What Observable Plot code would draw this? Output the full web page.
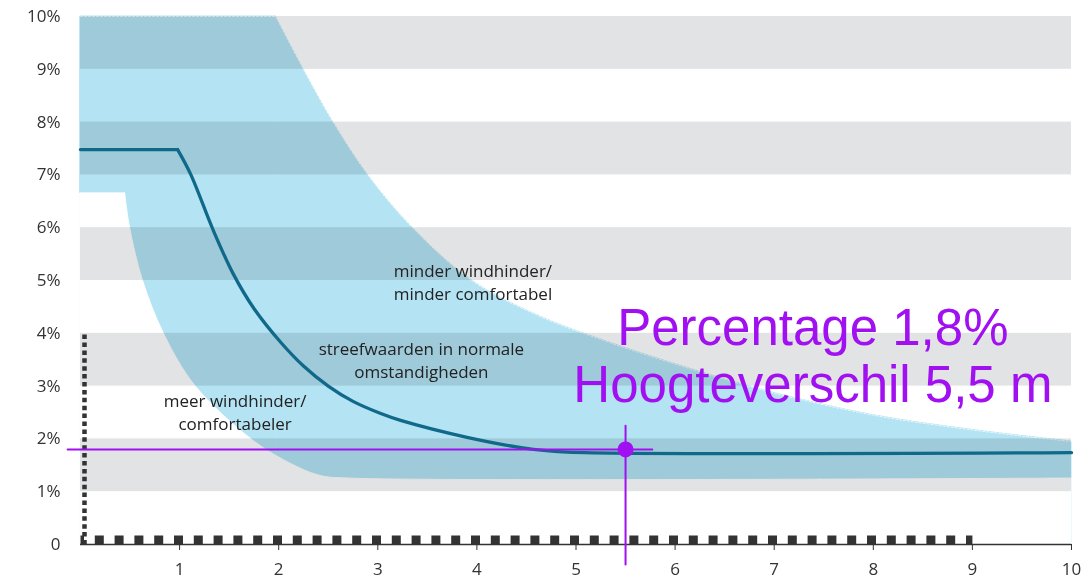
<!DOCTYPE html>
<html><head><meta charset="utf-8">
<script src="https://cdn.jsdelivr.net/npm/d3@7"></script>
<script src="https://cdn.jsdelivr.net/npm/@observablehq/plot@0.6"></script>
<style>html,body{margin:0;padding:0;background:#fff;overflow:hidden}</style>
</head><body><div id="chart"></div>
<script>
// ---- data ----
const xTicks = [1, 2, 3, 4, 5, 6, 7, 8, 9, 10];
const yTicks = [0, 1, 2, 3, 4, 5, 6, 7, 8, 9, 10];
const grayBands = [[1, 2], [3, 4], [5, 6], [7, 8], [9, 10]];
// upper edge of the blue zone (less wind nuisance side)
const upperFlat = [[0, 10], [1.97, 10]];
const upperCurve = [[1.97, 10], [2.25, 9], [2.55, 8], [2.9, 7], [3.35, 6], [3.95, 5], [4.6, 4.35], [5.3, 3.85], [6.2, 3.3], [7, 2.87], [8, 2.45], [9, 2.17], [10, 1.95]];
// lower edge of the blue zone
const lowerFlat = [[0, 6.65], [0.45, 6.65]];
const lowerCurve = [[0.45, 6.65], [0.5, 6.0], [0.63, 5], [0.84, 4], [1.16, 3], [1.72, 2], [2.1, 1.55], [2.42, 1.3], [2.7, 1.25], [10, 1.25]];
// target values line
const targetFlat = [[0, 7.48], [0.98, 7.48]];
const targetCurve = [[0.98, 7.48], [1.11, 7.02], [1.34, 5.95], [1.54, 5.13], [1.75, 4.47], [2.02, 3.83], [2.25, 3.38], [2.5, 3.0], [2.75, 2.71], [3.03, 2.48], [3.23, 2.35], [3.9, 2.03], [4.57, 1.8], [4.91, 1.75], [10, 1.74]];
// dashed reference markers
const baseDash = [[0, 0], [9, 0]];
const sideDash = [[0, 0], [0, 4]];
// labels (one entry per text line)
const labelTexts = ["minder windhinder/", "minder comfortabel", "streefwaarden in normale", "omstandigheden", "meer windhinder/", "comfortabeler"];
const labelX = [3.96, 3.96, 3.44, 3.44, 1.56, 1.56];
const labelY = [5.17, 4.73, 3.69, 3.25, 2.71, 2.27];
// highlighted reading
const markerX = 5.5;
const markerY = 1.8;
const markerHLine = [[-0.13, 1.8], [5.77, 1.8]];
const markerVLine = [[5.5, 2.25], [5.5, -0.38]];
const annotationLines = ["Percentage 1,8%", "Hoogteverschil 5,5 m"];
const annotationX = [7.39, 7.39];
const annotationY = [3.77, 2.69];

const labels = labelTexts.map((t, i) => ({text: t, x: labelX[i], y: labelY[i]}));
const annotations = annotationLines.map((t, i) => ({text: t, x: annotationX[i], y: annotationY[i]}));
const X = d => d[0], Y = d => d[1];
const lightBlue = "#b4e3f3";
const teal = "#11698a";
const purple = "#a010f0";

const chart = Plot.plot({
  width: 1082,
  height: 579,
  marginTop: 16,
  marginRight: 11,
  marginBottom: 35,
  marginLeft: 80,
  x: {domain: [0, 10], label: null},
  y: {domain: [0, 10], label: null},
  style: {fontFamily: "'Open Sans', sans-serif", fontSize: "17px", color: "#333", background: "#fff"},
  marks: [
    Plot.areaY(upperFlat, {x: X, y: Y, fill: lightBlue, stroke: lightBlue, strokeWidth: 1}),
    Plot.areaY(upperCurve, {x: X, y: Y, fill: lightBlue, stroke: lightBlue, strokeWidth: 1, curve: "catmull-rom"}),
    Plot.areaY(lowerFlat, {x: X, y: Y, fill: "#fff", stroke: "#fff", strokeWidth: 1}),
    Plot.areaY(lowerCurve, {x: X, y: Y, fill: "#fff", stroke: "#fff", strokeWidth: 1, curve: "catmull-rom"}),
    Plot.line(upperCurve, {x: X, y: Y, stroke: "#fff", strokeWidth: 1, strokeDasharray: "2,2", strokeOpacity: 0.8, curve: "catmull-rom"}),
    Plot.line(upperFlat, {x: X, y: Y, stroke: "#fff", strokeWidth: 1, strokeDasharray: "2,2", strokeOpacity: 0.8}),
    Plot.rect(grayBands, {y1: d => d[0], y2: d => d[1], fill: "#e2e3e4", mixBlendMode: "multiply"}),
    Plot.line(sideDash, {x: X, y: Y, stroke: "#333", strokeWidth: 4.5, strokeDasharray: "4.5,3.4", strokeLinecap: "butt", dx: 4}),
    Plot.line(baseDash, {x: X, y: Y, stroke: "#333", strokeWidth: 9, strokeDasharray: "9,10.8", strokeDashoffset: 5.5, strokeLinecap: "butt", dy: -4.5}),
    Plot.ruleY([0], {stroke: "#333", strokeWidth: 1.3}),
    Plot.axisX(xTicks, {tickSize: 6, tickPadding: 12, fontSize: 17, stroke: "#333"}),
    Plot.axisY(yTicks, {tickSize: 0, tickPadding: 20, fontSize: 17, tickFormat: d => d === 0 ? "0" : d + "%"}),
    Plot.text(labels, {x: "x", y: "y", text: "text", fontSize: 17, fill: "#222"}),
    Plot.line(targetFlat, {x: X, y: Y, stroke: teal, strokeWidth: 3.3}),
    Plot.line(targetCurve, {x: X, y: Y, stroke: teal, strokeWidth: 3.3, curve: "catmull-rom"}),
    Plot.line(markerHLine, {x: X, y: Y, stroke: purple, strokeWidth: 2}),
    Plot.line(markerVLine, {x: X, y: Y, stroke: purple, strokeWidth: 2}),
    Plot.dot([[markerX, markerY]], {x: X, y: Y, r: 8, fill: purple}),
    Plot.text(annotations, {x: "x", y: "y", text: "text", lineAnchor: "bottom", fontSize: 51, fill: purple, fontFamily: "'Liberation Sans', Arial, sans-serif"})
  ]
});
document.getElementById("chart").appendChild(chart);
</script>
</body></html>
